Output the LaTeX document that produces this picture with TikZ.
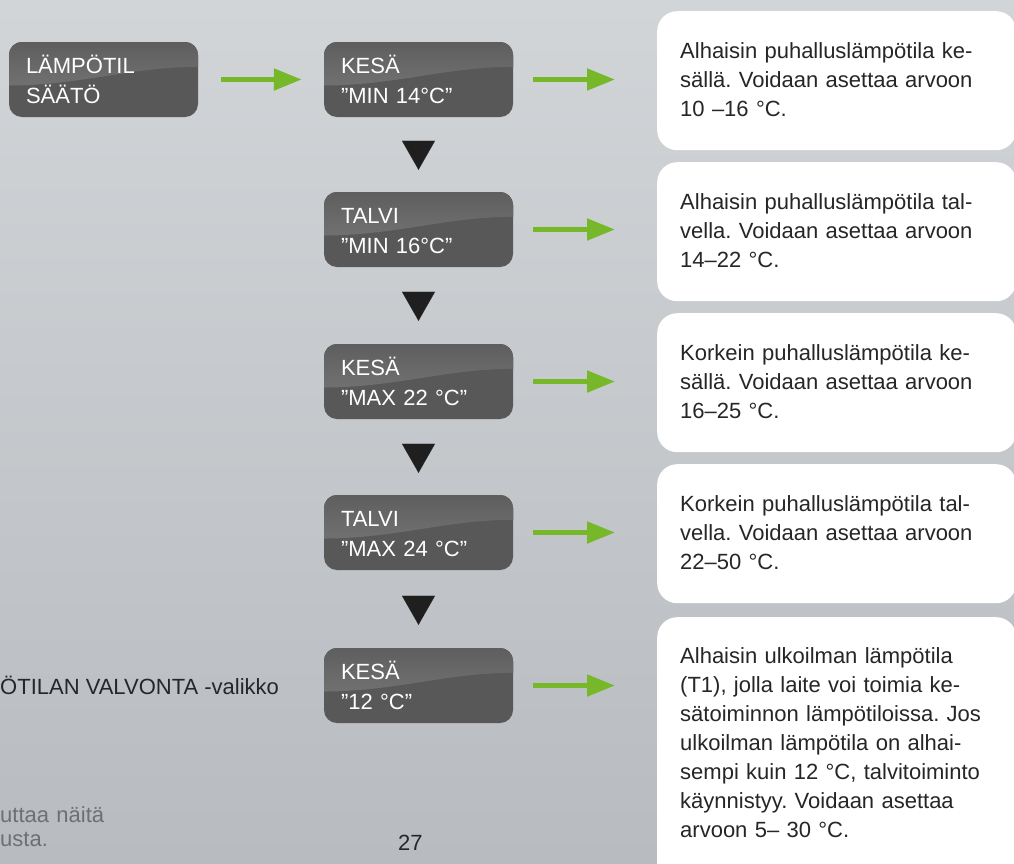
\documentclass[tikz,border=0pt]{standalone}
\usepackage{fontspec}
\setmainfont{Liberation Sans}
\usepackage{xcolor}
\usetikzlibrary{
    arrows.meta,
    calc,
    positioning
}
\frenchspacing
\definecolor{pagetop}{RGB}{209,213,216}
\definecolor{pagebot}{RGB}{184,188,192}
\definecolor{keylow}{RGB}{88,88,88}
\definecolor{keytop}{RGB}{94,94,94}
\definecolor{keyshine}{RGB}{126,126,126}
\definecolor{okgreen}{RGB}{118,184,42}
\definecolor{inktext}{RGB}{38,38,38}
\definecolor{faintink}{RGB}{108,111,115}
\tikzset{
    keybox/.style={rounded corners=13pt, fill=keylow, minimum width=189pt, minimum height=75pt,
        text width=155pt, inner xsep=17pt, inner ysep=0pt, text height=31pt, text depth=44pt,
        align=left, text=white, font=\fontsize{22}{30}\selectfont,
        path picture={
            \fill[sharp corners, top color=keytop, bottom color=keyshine]
                (path picture bounding box.north west) -- (path picture bounding box.north east)
                -- ($(path picture bounding box.north east)!0.33!(path picture bounding box.south east)$)
                .. controls +(-65pt,0pt) and +(70pt,0pt) .. ($(path picture bounding box.north west)!0.58!(path picture bounding box.south west)$)
                -- cycle;
        }},
    infobox/.style={rounded corners=20pt, fill=white, anchor=north west, minimum width=359pt,
        text width=313pt, inner xsep=23pt, inner ysep=0pt, text height=47pt, text depth=92pt,
        align=left, text=inktext, font=\fontsize{22}{29}\selectfont},
    gogreen/.style={draw=okgreen, line width=5pt, -{Triangle[length=28pt,width=21pt]}},
    nextstep/.style={draw=black!88, line width=0.1pt, -{Triangle[length=29pt,width=33pt]}}
}
\begin{document}
\begin{tikzpicture}[x=1pt, y=-1pt]
    \useasboundingbox (0,0) rectangle (1014,863);
    \clip (0,0) rectangle (1014,863);
    \fill[top color=pagetop, bottom color=pagebot] (0,0) rectangle (1014,863);

    % menu keys
    \node[keybox] (k1) at (103.5,79.5) {LÄMPÖTIL\\SÄÄTÖ};
    \node[keybox] (k2) at (418.5,79.5) {KESÄ\\”MIN 14°C”};
    \node[keybox] (k3) at (418.5,229.5) {TALVI\\”MIN 16°C”};
    \node[keybox] (k4) at (418.5,381.5) {KESÄ\\”MAX 22 °C”};
    \node[keybox] (k5) at (418.5,532.5) {TALVI\\”MAX 24 °C”};
    \node[keybox] (k6) at (418.5,685.5) {KESÄ\\”12 °C”};

    % explanations
    \node[infobox] (d2) at (657,11) {Alhaisin puhalluslämpötila ke-\\sällä. Voidaan asettaa arvoon\\10 –16 °C.};
    \node[infobox] (d3) at (657,162) {Alhaisin puhalluslämpötila tal-\\vella. Voidaan asettaa arvoon\\14–22 °C.};
    \node[infobox] (d4) at (657,313) {Korkein puhalluslämpötila ke-\\sällä. Voidaan asettaa arvoon\\16–25 °C.};
    \node[infobox] (d5) at (657,464) {Korkein puhalluslämpötila tal-\\vella. Voidaan asettaa arvoon\\22–50 °C.};
    \node[infobox, text height=46pt, text depth=220pt] (d6) at (657,617) {Alhaisin ulkoilman lämpötila\\(T1), jolla laite voi toimia ke-\\sätoiminnon lämpötiloissa. Jos\\ulkoilman lämpötila on alhai-\\sempi kuin 12 °C, talvitoiminto\\käynnistyy. Voidaan asettaa\\arvoon 5– 30 °C.};

    % page texts
    \node[anchor=base west, inner sep=0pt, text=inktext, font=\fontsize{22}{29}\selectfont] (menu) at (0,694) {ÖTILAN VALVONTA -valikko};
    \node[anchor=base west, inner sep=0pt, text width=140pt, align=left, text=faintink, font=\fontsize{22}{24}\selectfont] (hint) at (0,822) {uttaa näitä\\usta.};
    \node[anchor=base west, inner sep=0pt, text=inktext, font=\fontsize{22}{29}\selectfont] (pageno) at (398,850) {27};

    % arrows
    \draw[gogreen, shorten <=23pt, shorten >=22pt] (k1) -- (k2);
    \draw[gogreen, shorten <=20pt, shorten >=42pt] (k2.east) -- (k2.east -| d2.west);
    \draw[gogreen, shorten <=20pt, shorten >=42pt] (k3.east) -- (k3.east -| d3.west);
    \draw[gogreen, shorten <=20pt, shorten >=42pt] (k4.east) -- (k4.east -| d4.west);
    \draw[gogreen, shorten <=20pt, shorten >=42pt] (k5.east) -- (k5.east -| d5.west);
    \draw[gogreen, shorten <=20pt, shorten >=42pt] (k6.east) -- (k6.east -| d6.west);
    \draw[nextstep, shorten <=24pt, shorten >=22pt] (k2) -- (k3);
    \draw[nextstep, shorten <=25pt, shorten >=23pt] (k3) -- (k4);
    \draw[nextstep, shorten <=25pt, shorten >=22pt] (k4) -- (k5);
    \draw[nextstep, shorten <=26pt, shorten >=23pt] (k5) -- (k6);
\end{tikzpicture}
\end{document}
